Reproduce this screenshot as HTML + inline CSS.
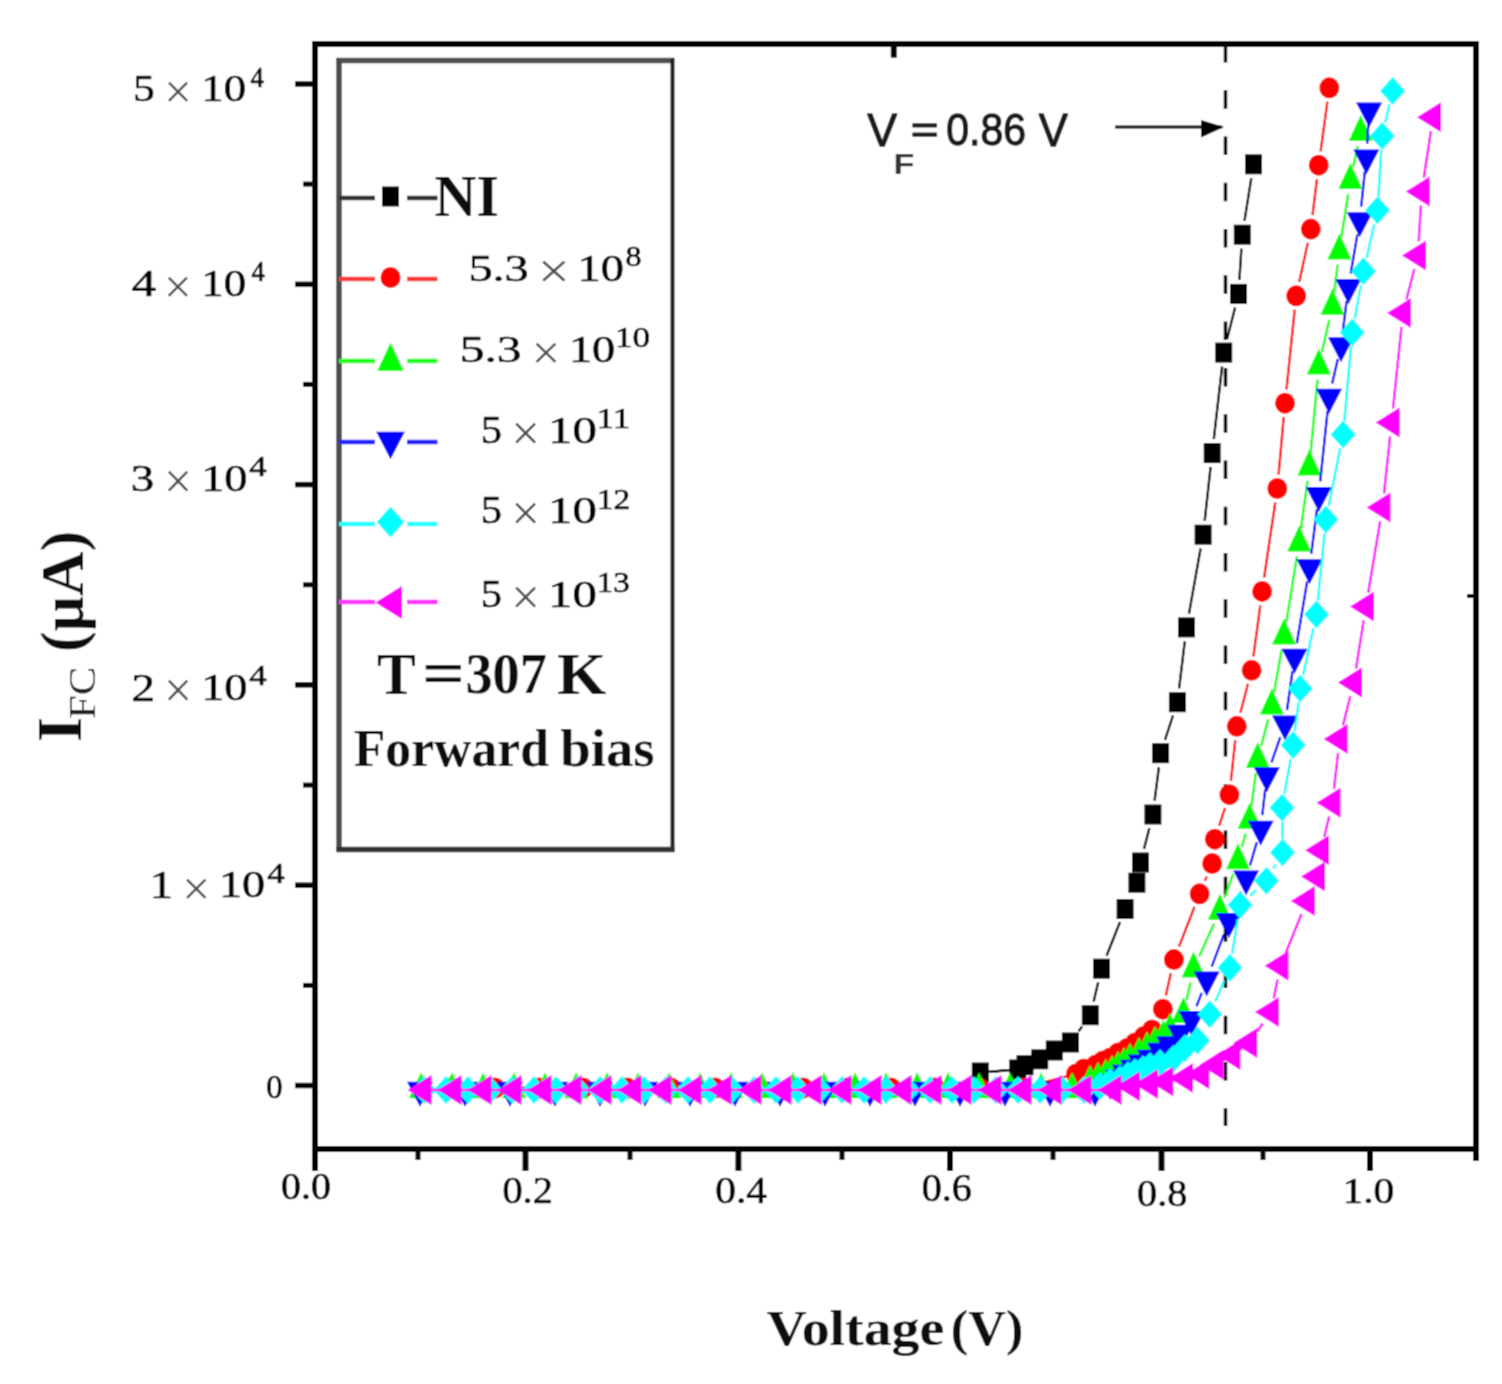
<!DOCTYPE html><html><head><meta charset="utf-8"><title>I-V plot</title><style>html,body{margin:0;padding:0;background:#fff;}svg{display:block;}</style></head><body><svg width="1502" height="1384" viewBox="0 0 1502 1384"><defs><filter id="soft" x="0" y="0" width="1502" height="1384" filterUnits="userSpaceOnUse"><feConvolveMatrix order="3" kernelMatrix="1 2 1 2 8 2 1 2 1" divisor="20" edgeMode="duplicate"/></filter></defs><g filter="url(#soft)"><rect width="1502" height="1384" fill="#fff"/><line x1="315" y1="41" x2="315" y2="1171" stroke="#000" stroke-width="6"/><line x1="312" y1="44" x2="1479" y2="44" stroke="#000" stroke-width="6"/><line x1="1476" y1="41" x2="1476" y2="1161" stroke="#000" stroke-width="6"/><line x1="312" y1="1149" x2="1479" y2="1149" stroke="#000" stroke-width="6"/><line x1="295" y1="1085.5" x2="315" y2="1085.5" stroke="#000" stroke-width="5.5"/><line x1="303" y1="985.4" x2="315" y2="985.4" stroke="#000" stroke-width="5"/><line x1="295" y1="885.2" x2="315" y2="885.2" stroke="#000" stroke-width="5.5"/><line x1="303" y1="785.1" x2="315" y2="785.1" stroke="#000" stroke-width="5"/><line x1="295" y1="684.9" x2="315" y2="684.9" stroke="#000" stroke-width="5.5"/><line x1="303" y1="584.8" x2="315" y2="584.8" stroke="#000" stroke-width="5"/><line x1="295" y1="484.6" x2="315" y2="484.6" stroke="#000" stroke-width="5.5"/><line x1="303" y1="384.4" x2="315" y2="384.4" stroke="#000" stroke-width="5"/><line x1="295" y1="284.3" x2="315" y2="284.3" stroke="#000" stroke-width="5.5"/><line x1="303" y1="184.1" x2="315" y2="184.1" stroke="#000" stroke-width="5"/><line x1="295" y1="84.0" x2="315" y2="84.0" stroke="#000" stroke-width="5.5"/><line x1="525.5" y1="1149" x2="525.5" y2="1171" stroke="#000" stroke-width="6"/><line x1="738.4" y1="1149" x2="738.4" y2="1171" stroke="#000" stroke-width="6"/><line x1="950" y1="1149" x2="950" y2="1171" stroke="#000" stroke-width="6"/><line x1="1161.5" y1="1149" x2="1161.5" y2="1171" stroke="#000" stroke-width="6"/><line x1="1370" y1="1149" x2="1370" y2="1171" stroke="#000" stroke-width="6"/><line x1="418" y1="1149" x2="418" y2="1160" stroke="#000" stroke-width="5"/><line x1="630" y1="1149" x2="630" y2="1160" stroke="#000" stroke-width="5"/><line x1="842" y1="1149" x2="842" y2="1160" stroke="#000" stroke-width="5"/><line x1="1053" y1="1149" x2="1053" y2="1160" stroke="#000" stroke-width="5"/><line x1="1263" y1="1149" x2="1263" y2="1160" stroke="#000" stroke-width="5"/><line x1="893.8" y1="44" x2="893.8" y2="57.7" stroke="#000" stroke-width="6"/><line x1="1467" y1="596" x2="1476" y2="596" stroke="#000" stroke-width="4"/><line x1="1225.5" y1="44" x2="1225.5" y2="1126" stroke="#000" stroke-width="3.5" stroke-dasharray="18.5 27.77"/><line x1="1115" y1="127" x2="1222" y2="127" stroke="#000" stroke-width="3"/><polygon points="1201,120 1224,127 1201,137.5" fill="#000"/><polyline points="412.0,1090.0 434.0,1090.0 456.0,1090.0 478.0,1090.0 500.0,1090.0 522.0,1090.0 544.0,1090.0 566.0,1090.0 588.0,1090.0 610.0,1090.0 632.0,1090.0 654.0,1090.0 676.0,1090.0 698.0,1090.0 720.0,1090.0 742.0,1090.0 764.0,1090.0 786.0,1090.0 808.0,1090.0 830.0,1090.0 852.0,1090.0 874.0,1090.0 896.0,1090.0 918.0,1090.0 940.0,1090.0 962.0,1090.0 980.3,1072.5 1017.7,1069.5 1025.0,1065.2 1039.7,1059.3 1054.3,1050.5 1070.4,1042.5" fill="none" stroke="#000000" stroke-width="2.4"/><path d="M994.3 1071.4L1003.7 1070.6M1078.6 1031.2L1082.1 1026.5M1093.6 1001.6L1098.2 982.3M1106.6 955.7L1120.0 922.0M1144.0 848.9L1149.4 828.1M1154.6 800.6L1158.9 767.1M1165.0 739.9L1173.0 715.5M1179.1 688.3L1184.8 641.3M1189.0 613.6L1200.6 548.5M1204.7 520.8L1210.6 467.0M1213.8 439.2L1222.1 366.5M1227.1 339.0L1235.1 307.5M1239.4 279.9L1241.4 248.7M1244.5 220.9L1251.3 178.1" fill="none" stroke="#000000" stroke-width="2.4"/><rect x="971.8" y="1062.5" width="17" height="20" fill="#000000"/><rect x="1009.2" y="1059.5" width="17" height="20" fill="#000000"/><rect x="1016.5" y="1055.2" width="17" height="20" fill="#000000"/><rect x="1031.2" y="1049.3" width="17" height="20" fill="#000000"/><rect x="1045.8" y="1040.5" width="17" height="20" fill="#000000"/><rect x="1061.9" y="1032.5" width="17" height="20" fill="#000000"/><rect x="1081.8" y="1005.2" width="17" height="20" fill="#000000"/><rect x="1093.0" y="958.7" width="17" height="20" fill="#000000"/><rect x="1116.6" y="899.0" width="17" height="20" fill="#000000"/><rect x="1128.4" y="872.7" width="17" height="20" fill="#000000"/><rect x="1132.0" y="852.5" width="17" height="20" fill="#000000"/><rect x="1144.4" y="804.5" width="17" height="20" fill="#000000"/><rect x="1152.1" y="743.2" width="17" height="20" fill="#000000"/><rect x="1168.9" y="692.2" width="17" height="20" fill="#000000"/><rect x="1178.0" y="617.4" width="17" height="20" fill="#000000"/><rect x="1194.6" y="524.7" width="17" height="20" fill="#000000"/><rect x="1203.7" y="443.1" width="17" height="20" fill="#000000"/><rect x="1215.2" y="342.6" width="17" height="20" fill="#000000"/><rect x="1230.0" y="283.9" width="17" height="20" fill="#000000"/><rect x="1233.8" y="224.7" width="17" height="20" fill="#000000"/><rect x="1245.0" y="154.3" width="17" height="20" fill="#000000"/><polyline points="451.0,1088.0 495.0,1088.0 539.0,1088.0 583.0,1088.0 627.0,1088.0 671.0,1088.0 715.0,1088.0 759.0,1088.0 803.0,1088.0 847.0,1088.0 891.0,1088.0 935.0,1088.0 979.0,1088.0 1023.0,1088.0 1076.0,1074.0 1083.8,1069.0 1095.8,1065.0 1103.0,1061.0 1110.2,1058.0 1118.0,1053.0 1127.0,1048.5 1135.0,1043.0 1143.7,1036.6 1152.0,1030.0" fill="none" stroke="#ff0000" stroke-width="2.4"/><path d="M465.0 1088.0L481.0 1088.0M509.0 1088.0L525.0 1088.0M553.0 1088.0L569.0 1088.0M597.0 1088.0L613.0 1088.0M641.0 1088.0L657.0 1088.0M685.0 1088.0L701.0 1088.0M729.0 1088.0L745.0 1088.0M773.0 1088.0L789.0 1088.0M817.0 1088.0L833.0 1088.0M861.0 1088.0L877.0 1088.0M905.0 1088.0L921.0 1088.0M949.0 1088.0L965.0 1088.0M993.0 1088.0L1009.0 1088.0M1036.5 1084.4L1062.5 1077.6M1165.9 995.5L1170.8 973.3M1179.0 946.6L1194.5 906.8M1204.9 880.9L1206.8 876.4M1219.2 825.9L1225.0 808.0M1230.9 780.8L1235.3 740.2M1240.4 712.8L1248.0 683.8M1253.4 656.4L1260.3 605.3M1264.1 577.6L1275.3 502.3M1278.6 474.6L1283.7 417.1M1286.5 389.3L1294.7 309.7M1299.2 282.1L1307.8 242.8M1312.5 215.2L1317.0 179.1M1320.6 151.3L1327.4 101.7" fill="none" stroke="#ff0000" stroke-width="2.4"/><ellipse cx="451.0" cy="1088.0" rx="10" ry="10.5" fill="#ff0000"/><ellipse cx="495.0" cy="1088.0" rx="10" ry="10.5" fill="#ff0000"/><ellipse cx="539.0" cy="1088.0" rx="10" ry="10.5" fill="#ff0000"/><ellipse cx="583.0" cy="1088.0" rx="10" ry="10.5" fill="#ff0000"/><ellipse cx="627.0" cy="1088.0" rx="10" ry="10.5" fill="#ff0000"/><ellipse cx="671.0" cy="1088.0" rx="10" ry="10.5" fill="#ff0000"/><ellipse cx="715.0" cy="1088.0" rx="10" ry="10.5" fill="#ff0000"/><ellipse cx="759.0" cy="1088.0" rx="10" ry="10.5" fill="#ff0000"/><ellipse cx="803.0" cy="1088.0" rx="10" ry="10.5" fill="#ff0000"/><ellipse cx="847.0" cy="1088.0" rx="10" ry="10.5" fill="#ff0000"/><ellipse cx="891.0" cy="1088.0" rx="10" ry="10.5" fill="#ff0000"/><ellipse cx="935.0" cy="1088.0" rx="10" ry="10.5" fill="#ff0000"/><ellipse cx="979.0" cy="1088.0" rx="10" ry="10.5" fill="#ff0000"/><ellipse cx="1023.0" cy="1088.0" rx="10" ry="10.5" fill="#ff0000"/><ellipse cx="1076.0" cy="1074.0" rx="10" ry="10.5" fill="#ff0000"/><ellipse cx="1083.8" cy="1069.0" rx="10" ry="10.5" fill="#ff0000"/><ellipse cx="1095.8" cy="1065.0" rx="10" ry="10.5" fill="#ff0000"/><ellipse cx="1103.0" cy="1061.0" rx="10" ry="10.5" fill="#ff0000"/><ellipse cx="1110.2" cy="1058.0" rx="10" ry="10.5" fill="#ff0000"/><ellipse cx="1118.0" cy="1053.0" rx="10" ry="10.5" fill="#ff0000"/><ellipse cx="1127.0" cy="1048.5" rx="10" ry="10.5" fill="#ff0000"/><ellipse cx="1135.0" cy="1043.0" rx="10" ry="10.5" fill="#ff0000"/><ellipse cx="1143.7" cy="1036.6" rx="10" ry="10.5" fill="#ff0000"/><ellipse cx="1152.0" cy="1030.0" rx="10" ry="10.5" fill="#ff0000"/><ellipse cx="1162.8" cy="1009.2" rx="10" ry="10.5" fill="#ff0000"/><ellipse cx="1173.9" cy="959.6" rx="10" ry="10.5" fill="#ff0000"/><ellipse cx="1199.6" cy="893.8" rx="10" ry="10.5" fill="#ff0000"/><ellipse cx="1212.1" cy="863.5" rx="10" ry="10.5" fill="#ff0000"/><ellipse cx="1214.8" cy="839.2" rx="10" ry="10.5" fill="#ff0000"/><ellipse cx="1229.4" cy="794.7" rx="10" ry="10.5" fill="#ff0000"/><ellipse cx="1236.8" cy="726.3" rx="10" ry="10.5" fill="#ff0000"/><ellipse cx="1251.6" cy="670.3" rx="10" ry="10.5" fill="#ff0000"/><ellipse cx="1262.1" cy="591.4" rx="10" ry="10.5" fill="#ff0000"/><ellipse cx="1277.3" cy="488.5" rx="10" ry="10.5" fill="#ff0000"/><ellipse cx="1285.0" cy="403.2" rx="10" ry="10.5" fill="#ff0000"/><ellipse cx="1296.2" cy="295.8" rx="10" ry="10.5" fill="#ff0000"/><ellipse cx="1310.8" cy="229.1" rx="10" ry="10.5" fill="#ff0000"/><ellipse cx="1318.7" cy="165.2" rx="10" ry="10.5" fill="#ff0000"/><ellipse cx="1329.3" cy="87.8" rx="10" ry="10.5" fill="#ff0000"/><polyline points="421.0,1089.5 452.0,1089.5 483.0,1089.5 514.0,1089.5 545.0,1089.5 576.0,1089.5 607.0,1089.5 638.0,1089.5 669.0,1089.5 700.0,1089.5 731.0,1089.5 762.0,1089.5 793.0,1089.5 824.0,1089.5 855.0,1089.5 886.0,1089.5 917.0,1089.5 948.0,1089.5 979.0,1089.5 1010.0,1089.5 1041.0,1089.5 1072.0,1089.5 1090.0,1082.0 1098.0,1079.0 1105.6,1076.0 1112.0,1072.0 1118.0,1068.0 1124.0,1064.0 1130.0,1060.0 1139.0,1054.0 1147.0,1048.6 1155.0,1043.0 1163.2,1037.0 1170.0,1030.0" fill="none" stroke="#00ff00" stroke-width="2.4"/><path d="M435.0 1089.5L438.0 1089.5M466.0 1089.5L469.0 1089.5M497.0 1089.5L500.0 1089.5M528.0 1089.5L531.0 1089.5M559.0 1089.5L562.0 1089.5M590.0 1089.5L593.0 1089.5M621.0 1089.5L624.0 1089.5M652.0 1089.5L655.0 1089.5M683.0 1089.5L686.0 1089.5M714.0 1089.5L717.0 1089.5M745.0 1089.5L748.0 1089.5M776.0 1089.5L779.0 1089.5M807.0 1089.5L810.0 1089.5M838.0 1089.5L841.0 1089.5M869.0 1089.5L872.0 1089.5M900.0 1089.5L903.0 1089.5M931.0 1089.5L934.0 1089.5M962.0 1089.5L965.0 1089.5M993.0 1089.5L996.0 1089.5M1024.0 1089.5L1027.0 1089.5M1055.0 1089.5L1058.0 1089.5M1186.4 1000.5L1190.5 982.4M1199.3 956.0L1214.0 923.7M1224.5 897.8L1233.3 873.7M1241.9 847.0L1245.7 833.5M1251.5 806.1L1255.8 773.2M1261.3 745.8L1268.2 719.2M1274.2 691.9L1281.6 649.7M1286.3 622.1L1296.9 556.6M1301.0 528.9L1307.5 480.8M1310.6 453.0L1317.5 379.6M1321.9 352.1L1329.3 319.7M1334.2 292.2L1337.6 264.6M1341.5 236.9L1348.2 194.0M1353.2 166.5L1357.7 146.0" fill="none" stroke="#00ff00" stroke-width="2.4"/><polygon points="421.0,1072.2 433.0,1098.2 409.0,1098.2" fill="#00ff00"/><polygon points="452.0,1072.2 464.0,1098.2 440.0,1098.2" fill="#00ff00"/><polygon points="483.0,1072.2 495.0,1098.2 471.0,1098.2" fill="#00ff00"/><polygon points="514.0,1072.2 526.0,1098.2 502.0,1098.2" fill="#00ff00"/><polygon points="545.0,1072.2 557.0,1098.2 533.0,1098.2" fill="#00ff00"/><polygon points="576.0,1072.2 588.0,1098.2 564.0,1098.2" fill="#00ff00"/><polygon points="607.0,1072.2 619.0,1098.2 595.0,1098.2" fill="#00ff00"/><polygon points="638.0,1072.2 650.0,1098.2 626.0,1098.2" fill="#00ff00"/><polygon points="669.0,1072.2 681.0,1098.2 657.0,1098.2" fill="#00ff00"/><polygon points="700.0,1072.2 712.0,1098.2 688.0,1098.2" fill="#00ff00"/><polygon points="731.0,1072.2 743.0,1098.2 719.0,1098.2" fill="#00ff00"/><polygon points="762.0,1072.2 774.0,1098.2 750.0,1098.2" fill="#00ff00"/><polygon points="793.0,1072.2 805.0,1098.2 781.0,1098.2" fill="#00ff00"/><polygon points="824.0,1072.2 836.0,1098.2 812.0,1098.2" fill="#00ff00"/><polygon points="855.0,1072.2 867.0,1098.2 843.0,1098.2" fill="#00ff00"/><polygon points="886.0,1072.2 898.0,1098.2 874.0,1098.2" fill="#00ff00"/><polygon points="917.0,1072.2 929.0,1098.2 905.0,1098.2" fill="#00ff00"/><polygon points="948.0,1072.2 960.0,1098.2 936.0,1098.2" fill="#00ff00"/><polygon points="979.0,1072.2 991.0,1098.2 967.0,1098.2" fill="#00ff00"/><polygon points="1010.0,1072.2 1022.0,1098.2 998.0,1098.2" fill="#00ff00"/><polygon points="1041.0,1072.2 1053.0,1098.2 1029.0,1098.2" fill="#00ff00"/><polygon points="1072.0,1072.2 1084.0,1098.2 1060.0,1098.2" fill="#00ff00"/><polygon points="1090.0,1064.7 1102.0,1090.7 1078.0,1090.7" fill="#00ff00"/><polygon points="1098.0,1061.7 1110.0,1087.7 1086.0,1087.7" fill="#00ff00"/><polygon points="1105.6,1058.7 1117.6,1084.7 1093.6,1084.7" fill="#00ff00"/><polygon points="1112.0,1054.7 1124.0,1080.7 1100.0,1080.7" fill="#00ff00"/><polygon points="1118.0,1050.7 1130.0,1076.7 1106.0,1076.7" fill="#00ff00"/><polygon points="1124.0,1046.7 1136.0,1072.7 1112.0,1072.7" fill="#00ff00"/><polygon points="1130.0,1042.7 1142.0,1068.7 1118.0,1068.7" fill="#00ff00"/><polygon points="1139.0,1036.7 1151.0,1062.7 1127.0,1062.7" fill="#00ff00"/><polygon points="1147.0,1031.3 1159.0,1057.3 1135.0,1057.3" fill="#00ff00"/><polygon points="1155.0,1025.7 1167.0,1051.7 1143.0,1051.7" fill="#00ff00"/><polygon points="1163.2,1019.7 1175.2,1045.7 1151.2,1045.7" fill="#00ff00"/><polygon points="1170.0,1012.7 1182.0,1038.7 1158.0,1038.7" fill="#00ff00"/><polygon points="1183.4,996.9 1195.4,1022.9 1171.4,1022.9" fill="#00ff00"/><polygon points="1193.5,951.4 1205.5,977.4 1181.5,977.4" fill="#00ff00"/><polygon points="1219.8,893.7 1231.8,919.7 1207.8,919.7" fill="#00ff00"/><polygon points="1238.0,843.2 1250.0,869.2 1226.0,869.2" fill="#00ff00"/><polygon points="1249.6,802.7 1261.6,828.7 1237.6,828.7" fill="#00ff00"/><polygon points="1257.7,742.0 1269.7,768.0 1245.7,768.0" fill="#00ff00"/><polygon points="1271.8,688.4 1283.8,714.4 1259.8,714.4" fill="#00ff00"/><polygon points="1284.0,618.6 1296.0,644.6 1272.0,644.6" fill="#00ff00"/><polygon points="1299.2,525.5 1311.2,551.5 1287.2,551.5" fill="#00ff00"/><polygon points="1309.3,449.6 1321.3,475.6 1297.3,475.6" fill="#00ff00"/><polygon points="1318.8,348.4 1330.8,374.4 1306.8,374.4" fill="#00ff00"/><polygon points="1332.4,288.8 1344.4,314.8 1320.4,314.8" fill="#00ff00"/><polygon points="1339.4,233.4 1351.4,259.4 1327.4,259.4" fill="#00ff00"/><polygon points="1350.3,162.9 1362.3,188.9 1338.3,188.9" fill="#00ff00"/><polygon points="1360.6,115.0 1372.6,141.0 1348.6,141.0" fill="#00ff00"/><polyline points="420.0,1090.0 465.0,1090.0 510.0,1090.0 555.0,1090.0 600.0,1090.0 645.0,1090.0 690.0,1090.0 735.0,1090.0 780.0,1090.0 825.0,1090.0 870.0,1090.0 915.0,1090.0 960.0,1090.0 1005.0,1090.0 1050.0,1090.0 1095.0,1090.0 1110.0,1083.0 1118.0,1078.0 1125.0,1073.0 1133.0,1068.0 1140.9,1062.8 1150.0,1058.0 1160.0,1051.0 1169.2,1044.6 1180.0,1033.0 1191.5,1019.3" fill="none" stroke="#0000ff" stroke-width="2.4"/><path d="M434.0 1090.0L451.0 1090.0M479.0 1090.0L496.0 1090.0M524.0 1090.0L541.0 1090.0M569.0 1090.0L586.0 1090.0M614.0 1090.0L631.0 1090.0M659.0 1090.0L676.0 1090.0M704.0 1090.0L721.0 1090.0M749.0 1090.0L766.0 1090.0M794.0 1090.0L811.0 1090.0M839.0 1090.0L856.0 1090.0M884.0 1090.0L901.0 1090.0M929.0 1090.0L946.0 1090.0M974.0 1090.0L991.0 1090.0M1019.0 1090.0L1036.0 1090.0M1064.0 1090.0L1081.0 1090.0M1196.5 1006.2L1201.7 992.9M1211.7 966.7L1223.9 934.3M1234.2 908.2L1240.8 891.7M1250.0 865.3L1256.8 842.4M1262.3 815.1L1265.2 789.4M1271.5 762.3L1280.3 737.1M1287.0 710.0L1292.5 671.0M1296.8 643.3L1307.2 581.3M1311.3 553.6L1317.0 509.1M1320.2 481.3L1327.6 410.9M1332.2 383.4L1337.8 359.1M1342.8 331.6L1346.6 301.2M1350.7 273.5L1357.4 234.4M1361.2 206.7L1364.8 171.6M1367.1 143.7L1368.3 124.7" fill="none" stroke="#0000ff" stroke-width="2.4"/><polygon points="407.0,1081.7 433.0,1081.7 420.0,1106.7" fill="#0000ff"/><polygon points="452.0,1081.7 478.0,1081.7 465.0,1106.7" fill="#0000ff"/><polygon points="497.0,1081.7 523.0,1081.7 510.0,1106.7" fill="#0000ff"/><polygon points="542.0,1081.7 568.0,1081.7 555.0,1106.7" fill="#0000ff"/><polygon points="587.0,1081.7 613.0,1081.7 600.0,1106.7" fill="#0000ff"/><polygon points="632.0,1081.7 658.0,1081.7 645.0,1106.7" fill="#0000ff"/><polygon points="677.0,1081.7 703.0,1081.7 690.0,1106.7" fill="#0000ff"/><polygon points="722.0,1081.7 748.0,1081.7 735.0,1106.7" fill="#0000ff"/><polygon points="767.0,1081.7 793.0,1081.7 780.0,1106.7" fill="#0000ff"/><polygon points="812.0,1081.7 838.0,1081.7 825.0,1106.7" fill="#0000ff"/><polygon points="857.0,1081.7 883.0,1081.7 870.0,1106.7" fill="#0000ff"/><polygon points="902.0,1081.7 928.0,1081.7 915.0,1106.7" fill="#0000ff"/><polygon points="947.0,1081.7 973.0,1081.7 960.0,1106.7" fill="#0000ff"/><polygon points="992.0,1081.7 1018.0,1081.7 1005.0,1106.7" fill="#0000ff"/><polygon points="1037.0,1081.7 1063.0,1081.7 1050.0,1106.7" fill="#0000ff"/><polygon points="1082.0,1081.7 1108.0,1081.7 1095.0,1106.7" fill="#0000ff"/><polygon points="1097.0,1074.7 1123.0,1074.7 1110.0,1099.7" fill="#0000ff"/><polygon points="1105.0,1069.7 1131.0,1069.7 1118.0,1094.7" fill="#0000ff"/><polygon points="1112.0,1064.7 1138.0,1064.7 1125.0,1089.7" fill="#0000ff"/><polygon points="1120.0,1059.7 1146.0,1059.7 1133.0,1084.7" fill="#0000ff"/><polygon points="1127.9,1054.5 1153.9,1054.5 1140.9,1079.5" fill="#0000ff"/><polygon points="1137.0,1049.7 1163.0,1049.7 1150.0,1074.7" fill="#0000ff"/><polygon points="1147.0,1042.7 1173.0,1042.7 1160.0,1067.7" fill="#0000ff"/><polygon points="1156.2,1036.3 1182.2,1036.3 1169.2,1061.3" fill="#0000ff"/><polygon points="1167.0,1024.7 1193.0,1024.7 1180.0,1049.7" fill="#0000ff"/><polygon points="1178.5,1011.0 1204.5,1011.0 1191.5,1036.0" fill="#0000ff"/><polygon points="1193.7,971.5 1219.7,971.5 1206.7,996.5" fill="#0000ff"/><polygon points="1215.9,912.9 1241.9,912.9 1228.9,937.9" fill="#0000ff"/><polygon points="1233.1,870.4 1259.1,870.4 1246.1,895.4" fill="#0000ff"/><polygon points="1247.7,820.7 1273.7,820.7 1260.7,845.7" fill="#0000ff"/><polygon points="1253.8,767.2 1279.8,767.2 1266.8,792.2" fill="#0000ff"/><polygon points="1272.0,715.6 1298.0,715.6 1285.0,740.6" fill="#0000ff"/><polygon points="1281.5,648.8 1307.5,648.8 1294.5,673.8" fill="#0000ff"/><polygon points="1296.5,559.2 1322.5,559.2 1309.5,584.2" fill="#0000ff"/><polygon points="1305.8,486.9 1331.8,486.9 1318.8,511.9" fill="#0000ff"/><polygon points="1316.0,388.7 1342.0,388.7 1329.0,413.7" fill="#0000ff"/><polygon points="1328.0,337.2 1354.0,337.2 1341.0,362.2" fill="#0000ff"/><polygon points="1335.4,279.0 1361.4,279.0 1348.4,304.0" fill="#0000ff"/><polygon points="1346.7,212.3 1372.7,212.3 1359.7,237.3" fill="#0000ff"/><polygon points="1353.3,149.4 1379.3,149.4 1366.3,174.4" fill="#0000ff"/><polygon points="1356.1,102.4 1382.1,102.4 1369.1,127.4" fill="#0000ff"/><polyline points="424.0,1090.0 446.0,1090.0 468.0,1090.0 490.0,1090.0 512.0,1090.0 534.0,1090.0 556.0,1090.0 578.0,1090.0 600.0,1090.0 622.0,1090.0 644.0,1090.0 666.0,1090.0 688.0,1090.0 710.0,1090.0 732.0,1090.0 754.0,1090.0 776.0,1090.0 798.0,1090.0 820.0,1090.0 842.0,1090.0 864.0,1090.0 886.0,1090.0 908.0,1090.0 930.0,1090.0 952.0,1090.0 974.0,1090.0 996.0,1090.0 1018.0,1090.0 1040.0,1090.0 1062.0,1090.0 1084.0,1090.0 1100.0,1086.0 1110.0,1082.0 1120.0,1079.0 1128.0,1075.0 1135.0,1072.0 1143.0,1069.0 1150.0,1066.0 1160.0,1063.0 1173.3,1058.7 1185.0,1048.0 1197.6,1040.5" fill="none" stroke="#00ffff" stroke-width="2.4"/><path d="M1215.3 1001.4L1224.3 980.5M1232.1 953.9L1237.8 918.8M1250.3 895.5L1256.1 890.2M1273.3 868.5L1275.6 864.6M1282.3 838.4L1282.2 821.8M1284.4 794.0L1290.7 758.9M1294.8 731.2L1298.5 702.4M1303.2 674.8L1313.4 628.3M1317.8 600.7L1324.5 533.4M1328.7 505.8L1340.3 448.2M1344.3 420.6L1351.0 346.3M1354.7 318.6L1360.9 285.1M1366.6 257.7L1374.3 223.9M1378.4 196.3L1381.3 150.1M1385.3 122.5L1389.5 104.6" fill="none" stroke="#00ffff" stroke-width="2.4"/><polygon points="424.0,1076.0 436.5,1090.0 424.0,1104.0 411.5,1090.0" fill="#00ffff"/><polygon points="446.0,1076.0 458.5,1090.0 446.0,1104.0 433.5,1090.0" fill="#00ffff"/><polygon points="468.0,1076.0 480.5,1090.0 468.0,1104.0 455.5,1090.0" fill="#00ffff"/><polygon points="490.0,1076.0 502.5,1090.0 490.0,1104.0 477.5,1090.0" fill="#00ffff"/><polygon points="512.0,1076.0 524.5,1090.0 512.0,1104.0 499.5,1090.0" fill="#00ffff"/><polygon points="534.0,1076.0 546.5,1090.0 534.0,1104.0 521.5,1090.0" fill="#00ffff"/><polygon points="556.0,1076.0 568.5,1090.0 556.0,1104.0 543.5,1090.0" fill="#00ffff"/><polygon points="578.0,1076.0 590.5,1090.0 578.0,1104.0 565.5,1090.0" fill="#00ffff"/><polygon points="600.0,1076.0 612.5,1090.0 600.0,1104.0 587.5,1090.0" fill="#00ffff"/><polygon points="622.0,1076.0 634.5,1090.0 622.0,1104.0 609.5,1090.0" fill="#00ffff"/><polygon points="644.0,1076.0 656.5,1090.0 644.0,1104.0 631.5,1090.0" fill="#00ffff"/><polygon points="666.0,1076.0 678.5,1090.0 666.0,1104.0 653.5,1090.0" fill="#00ffff"/><polygon points="688.0,1076.0 700.5,1090.0 688.0,1104.0 675.5,1090.0" fill="#00ffff"/><polygon points="710.0,1076.0 722.5,1090.0 710.0,1104.0 697.5,1090.0" fill="#00ffff"/><polygon points="732.0,1076.0 744.5,1090.0 732.0,1104.0 719.5,1090.0" fill="#00ffff"/><polygon points="754.0,1076.0 766.5,1090.0 754.0,1104.0 741.5,1090.0" fill="#00ffff"/><polygon points="776.0,1076.0 788.5,1090.0 776.0,1104.0 763.5,1090.0" fill="#00ffff"/><polygon points="798.0,1076.0 810.5,1090.0 798.0,1104.0 785.5,1090.0" fill="#00ffff"/><polygon points="820.0,1076.0 832.5,1090.0 820.0,1104.0 807.5,1090.0" fill="#00ffff"/><polygon points="842.0,1076.0 854.5,1090.0 842.0,1104.0 829.5,1090.0" fill="#00ffff"/><polygon points="864.0,1076.0 876.5,1090.0 864.0,1104.0 851.5,1090.0" fill="#00ffff"/><polygon points="886.0,1076.0 898.5,1090.0 886.0,1104.0 873.5,1090.0" fill="#00ffff"/><polygon points="908.0,1076.0 920.5,1090.0 908.0,1104.0 895.5,1090.0" fill="#00ffff"/><polygon points="930.0,1076.0 942.5,1090.0 930.0,1104.0 917.5,1090.0" fill="#00ffff"/><polygon points="952.0,1076.0 964.5,1090.0 952.0,1104.0 939.5,1090.0" fill="#00ffff"/><polygon points="974.0,1076.0 986.5,1090.0 974.0,1104.0 961.5,1090.0" fill="#00ffff"/><polygon points="996.0,1076.0 1008.5,1090.0 996.0,1104.0 983.5,1090.0" fill="#00ffff"/><polygon points="1018.0,1076.0 1030.5,1090.0 1018.0,1104.0 1005.5,1090.0" fill="#00ffff"/><polygon points="1040.0,1076.0 1052.5,1090.0 1040.0,1104.0 1027.5,1090.0" fill="#00ffff"/><polygon points="1062.0,1076.0 1074.5,1090.0 1062.0,1104.0 1049.5,1090.0" fill="#00ffff"/><polygon points="1084.0,1076.0 1096.5,1090.0 1084.0,1104.0 1071.5,1090.0" fill="#00ffff"/><polygon points="1100.0,1072.0 1112.5,1086.0 1100.0,1100.0 1087.5,1086.0" fill="#00ffff"/><polygon points="1110.0,1068.0 1122.5,1082.0 1110.0,1096.0 1097.5,1082.0" fill="#00ffff"/><polygon points="1120.0,1065.0 1132.5,1079.0 1120.0,1093.0 1107.5,1079.0" fill="#00ffff"/><polygon points="1128.0,1061.0 1140.5,1075.0 1128.0,1089.0 1115.5,1075.0" fill="#00ffff"/><polygon points="1135.0,1058.0 1147.5,1072.0 1135.0,1086.0 1122.5,1072.0" fill="#00ffff"/><polygon points="1143.0,1055.0 1155.5,1069.0 1143.0,1083.0 1130.5,1069.0" fill="#00ffff"/><polygon points="1150.0,1052.0 1162.5,1066.0 1150.0,1080.0 1137.5,1066.0" fill="#00ffff"/><polygon points="1160.0,1049.0 1172.5,1063.0 1160.0,1077.0 1147.5,1063.0" fill="#00ffff"/><polygon points="1173.3,1044.7 1185.8,1058.7 1173.3,1072.7 1160.8,1058.7" fill="#00ffff"/><polygon points="1185.0,1034.0 1197.5,1048.0 1185.0,1062.0 1172.5,1048.0" fill="#00ffff"/><polygon points="1197.6,1026.5 1210.1,1040.5 1197.6,1054.5 1185.1,1040.5" fill="#00ffff"/><polygon points="1209.7,1000.2 1222.2,1014.2 1209.7,1028.2 1197.2,1014.2" fill="#00ffff"/><polygon points="1229.9,953.7 1242.4,967.7 1229.9,981.7 1217.4,967.7" fill="#00ffff"/><polygon points="1240.0,891.0 1252.5,905.0 1240.0,919.0 1227.5,905.0" fill="#00ffff"/><polygon points="1266.4,866.7 1278.9,880.7 1266.4,894.7 1253.9,880.7" fill="#00ffff"/><polygon points="1282.5,838.4 1295.0,852.4 1282.5,866.4 1270.0,852.4" fill="#00ffff"/><polygon points="1282.0,793.8 1294.5,807.8 1282.0,821.8 1269.5,807.8" fill="#00ffff"/><polygon points="1293.1,731.1 1305.6,745.1 1293.1,759.1 1280.6,745.1" fill="#00ffff"/><polygon points="1300.2,674.5 1312.7,688.5 1300.2,702.5 1287.7,688.5" fill="#00ffff"/><polygon points="1316.4,600.6 1328.9,614.6 1316.4,628.6 1303.9,614.6" fill="#00ffff"/><polygon points="1325.9,505.5 1338.4,519.5 1325.9,533.5 1313.4,519.5" fill="#00ffff"/><polygon points="1343.1,420.5 1355.6,434.5 1343.1,448.5 1330.6,434.5" fill="#00ffff"/><polygon points="1352.2,318.4 1364.7,332.4 1352.2,346.4 1339.7,332.4" fill="#00ffff"/><polygon points="1363.4,257.3 1375.9,271.3 1363.4,285.3 1350.9,271.3" fill="#00ffff"/><polygon points="1377.5,196.3 1390.0,210.3 1377.5,224.3 1365.0,210.3" fill="#00ffff"/><polygon points="1382.2,122.1 1394.7,136.1 1382.2,150.1 1369.7,136.1" fill="#00ffff"/><polygon points="1392.6,77.0 1405.1,91.0 1392.6,105.0 1380.1,91.0" fill="#00ffff"/><polyline points="423.5,1090.0 453.5,1090.0 483.5,1090.0 513.5,1090.0 543.5,1090.0 573.5,1090.0 603.5,1090.0 633.5,1090.0 663.5,1090.0 693.5,1090.0 723.5,1090.0 753.5,1090.0 783.5,1090.0 813.5,1090.0 843.5,1090.0 873.5,1090.0 903.5,1090.0 933.5,1090.0 963.5,1090.0 993.5,1090.0 1023.5,1090.0 1053.5,1090.0 1083.5,1090.0 1113.5,1090.0 1131.8,1086.3 1150.0,1084.0 1165.3,1081.5 1185.0,1078.0 1201.3,1074.3 1215.6,1064.7 1232.4,1055.0 1249.2,1043.0" fill="none" stroke="#ff00ff" stroke-width="2.4"/><path d="M437.5 1090.0L439.5 1090.0M467.5 1090.0L469.5 1090.0M497.5 1090.0L499.5 1090.0M527.5 1090.0L529.5 1090.0M557.5 1090.0L559.5 1090.0M587.5 1090.0L589.5 1090.0M617.5 1090.0L619.5 1090.0M647.5 1090.0L649.5 1090.0M677.5 1090.0L679.5 1090.0M707.5 1090.0L709.5 1090.0M737.5 1090.0L739.5 1090.0M767.5 1090.0L769.5 1090.0M797.5 1090.0L799.5 1090.0M827.5 1090.0L829.5 1090.0M857.5 1090.0L859.5 1090.0M887.5 1090.0L889.5 1090.0M917.5 1090.0L919.5 1090.0M947.5 1090.0L949.5 1090.0M977.5 1090.0L979.5 1090.0M1007.5 1090.0L1009.5 1090.0M1037.5 1090.0L1039.5 1090.0M1067.5 1090.0L1069.5 1090.0M1097.5 1090.0L1099.5 1090.0M1257.2 1031.5L1262.8 1023.5M1273.7 998.3L1277.6 979.4M1285.8 952.7L1301.5 914.0M1324.3 836.7L1329.2 816.4M1334.0 788.9L1338.1 752.9M1343.0 725.4L1350.4 696.0M1356.0 668.6L1363.7 620.3M1368.2 592.7L1380.2 521.2M1384.0 493.5L1390.1 436.3M1393.0 408.5L1401.5 326.9M1406.4 299.5L1414.4 268.9M1418.7 241.4L1420.9 205.5M1423.8 177.7L1430.9 131.1" fill="none" stroke="#ff00ff" stroke-width="2.4"/><polygon points="407.5,1090.0 431.5,1075.0 431.5,1105.0" fill="#ff00ff"/><polygon points="437.5,1090.0 461.5,1075.0 461.5,1105.0" fill="#ff00ff"/><polygon points="467.5,1090.0 491.5,1075.0 491.5,1105.0" fill="#ff00ff"/><polygon points="497.5,1090.0 521.5,1075.0 521.5,1105.0" fill="#ff00ff"/><polygon points="527.5,1090.0 551.5,1075.0 551.5,1105.0" fill="#ff00ff"/><polygon points="557.5,1090.0 581.5,1075.0 581.5,1105.0" fill="#ff00ff"/><polygon points="587.5,1090.0 611.5,1075.0 611.5,1105.0" fill="#ff00ff"/><polygon points="617.5,1090.0 641.5,1075.0 641.5,1105.0" fill="#ff00ff"/><polygon points="647.5,1090.0 671.5,1075.0 671.5,1105.0" fill="#ff00ff"/><polygon points="677.5,1090.0 701.5,1075.0 701.5,1105.0" fill="#ff00ff"/><polygon points="707.5,1090.0 731.5,1075.0 731.5,1105.0" fill="#ff00ff"/><polygon points="737.5,1090.0 761.5,1075.0 761.5,1105.0" fill="#ff00ff"/><polygon points="767.5,1090.0 791.5,1075.0 791.5,1105.0" fill="#ff00ff"/><polygon points="797.5,1090.0 821.5,1075.0 821.5,1105.0" fill="#ff00ff"/><polygon points="827.5,1090.0 851.5,1075.0 851.5,1105.0" fill="#ff00ff"/><polygon points="857.5,1090.0 881.5,1075.0 881.5,1105.0" fill="#ff00ff"/><polygon points="887.5,1090.0 911.5,1075.0 911.5,1105.0" fill="#ff00ff"/><polygon points="917.5,1090.0 941.5,1075.0 941.5,1105.0" fill="#ff00ff"/><polygon points="947.5,1090.0 971.5,1075.0 971.5,1105.0" fill="#ff00ff"/><polygon points="977.5,1090.0 1001.5,1075.0 1001.5,1105.0" fill="#ff00ff"/><polygon points="1007.5,1090.0 1031.5,1075.0 1031.5,1105.0" fill="#ff00ff"/><polygon points="1037.5,1090.0 1061.5,1075.0 1061.5,1105.0" fill="#ff00ff"/><polygon points="1067.5,1090.0 1091.5,1075.0 1091.5,1105.0" fill="#ff00ff"/><polygon points="1097.5,1090.0 1121.5,1075.0 1121.5,1105.0" fill="#ff00ff"/><polygon points="1115.8,1086.3 1139.8,1071.3 1139.8,1101.3" fill="#ff00ff"/><polygon points="1134.0,1084.0 1158.0,1069.0 1158.0,1099.0" fill="#ff00ff"/><polygon points="1149.3,1081.5 1173.3,1066.5 1173.3,1096.5" fill="#ff00ff"/><polygon points="1169.0,1078.0 1193.0,1063.0 1193.0,1093.0" fill="#ff00ff"/><polygon points="1185.3,1074.3 1209.3,1059.3 1209.3,1089.3" fill="#ff00ff"/><polygon points="1199.6,1064.7 1223.6,1049.7 1223.6,1079.7" fill="#ff00ff"/><polygon points="1216.4,1055.0 1240.4,1040.0 1240.4,1070.0" fill="#ff00ff"/><polygon points="1233.2,1043.0 1257.2,1028.0 1257.2,1058.0" fill="#ff00ff"/><polygon points="1254.8,1012.0 1278.8,997.0 1278.8,1027.0" fill="#ff00ff"/><polygon points="1264.5,965.7 1288.5,950.7 1288.5,980.7" fill="#ff00ff"/><polygon points="1290.8,901.0 1314.8,886.0 1314.8,916.0" fill="#ff00ff"/><polygon points="1301.0,876.6 1325.0,861.6 1325.0,891.6" fill="#ff00ff"/><polygon points="1305.0,850.3 1329.0,835.3 1329.0,865.3" fill="#ff00ff"/><polygon points="1316.5,802.8 1340.5,787.8 1340.5,817.8" fill="#ff00ff"/><polygon points="1323.6,739.0 1347.6,724.0 1347.6,754.0" fill="#ff00ff"/><polygon points="1337.8,682.4 1361.8,667.4 1361.8,697.4" fill="#ff00ff"/><polygon points="1349.9,606.5 1373.9,591.5 1373.9,621.5" fill="#ff00ff"/><polygon points="1366.5,507.4 1390.5,492.4 1390.5,522.4" fill="#ff00ff"/><polygon points="1375.6,422.4 1399.6,407.4 1399.6,437.4" fill="#ff00ff"/><polygon points="1386.9,313.0 1410.9,298.0 1410.9,328.0" fill="#ff00ff"/><polygon points="1401.9,255.4 1425.9,240.4 1425.9,270.4" fill="#ff00ff"/><polygon points="1405.7,191.5 1429.7,176.5 1429.7,206.5" fill="#ff00ff"/><polygon points="1417.0,117.3 1441.0,102.3 1441.0,132.3" fill="#ff00ff"/><rect x="339" y="60.5" width="333.5" height="789" fill="#fff"/><line x1="336.5" y1="60.5" x2="674" y2="60.5" stroke="#505050" stroke-width="5.5"/><line x1="339" y1="58" x2="339" y2="852" stroke="#4c4c4c" stroke-width="5.5"/><line x1="672.5" y1="58" x2="672.5" y2="852" stroke="#1e1e1e" stroke-width="4"/><line x1="336.5" y1="849.5" x2="674.5" y2="849.5" stroke="#303030" stroke-width="5.5"/><line x1="339" y1="198" x2="375" y2="198" stroke="#333333" stroke-width="4.5"/><line x1="407" y1="198" x2="437.5" y2="198" stroke="#333333" stroke-width="4.5"/><rect x="382.0" y="186.5" width="17" height="20" fill="#000000"/><line x1="339" y1="279" x2="375" y2="279" stroke="#ff3a3a" stroke-width="4.5"/><line x1="407" y1="279" x2="437.5" y2="279" stroke="#ff3a3a" stroke-width="4.5"/><ellipse cx="390.5" cy="277.5" rx="10" ry="10.5" fill="#ff0000"/><line x1="339" y1="361" x2="375" y2="361" stroke="#22ff22" stroke-width="4.5"/><line x1="407" y1="361" x2="437.5" y2="361" stroke="#22ff22" stroke-width="4.5"/><polygon points="390.5,342.4 403.7,371.0 377.3,371.0" fill="#00ff00"/><line x1="339" y1="442" x2="375" y2="442" stroke="#2020ff" stroke-width="4.5"/><line x1="407" y1="442" x2="437.5" y2="442" stroke="#2020ff" stroke-width="4.5"/><polygon points="376.2,431.8 404.8,431.8 390.5,459.3" fill="#0000ff"/><line x1="339" y1="524" x2="375" y2="524" stroke="#22ffff" stroke-width="4.5"/><line x1="407" y1="524" x2="437.5" y2="524" stroke="#22ffff" stroke-width="4.5"/><polygon points="390.5,506.6 404.2,522.0 390.5,537.4 376.8,522.0" fill="#00ffff"/><line x1="339" y1="602" x2="375" y2="602" stroke="#ff30ff" stroke-width="4.5"/><line x1="407" y1="602" x2="437.5" y2="602" stroke="#ff30ff" stroke-width="4.5"/><polygon points="375.4,602.5 401.8,586.0 401.8,619.0" fill="#ff00ff"/><text transform="translate(133.34,101.35) scale(0.10726,0.09526)" font-family="'Liberation Serif', serif" font-weight="normal" font-size="400" fill="#000" stroke="#000" stroke-width="0.7" vector-effect="non-scaling-stroke" stroke-linejoin="round">5</text><text transform="translate(164.19,107.66) scale(0.12207,0.11911)" font-family="'Liberation Serif', serif" font-weight="normal" font-size="400" fill="#505050">×</text><text transform="translate(201.36,101.37) scale(0.11172,0.09309)" font-family="'Liberation Serif', serif" font-weight="normal" font-size="400" fill="#000" stroke="#000" stroke-width="0.7" vector-effect="non-scaling-stroke" stroke-linejoin="round">10</text><text transform="translate(250.43,86.85) scale(0.06667,0.07405)" font-family="'Liberation Serif', serif" font-weight="normal" font-size="400" fill="#000" stroke="#000" stroke-width="0.7" vector-effect="non-scaling-stroke" stroke-linejoin="round">4</text><text transform="translate(131.79,296.35) scale(0.12160,0.09526)" font-family="'Liberation Serif', serif" font-weight="normal" font-size="400" fill="#000" stroke="#000" stroke-width="0.7" vector-effect="non-scaling-stroke" stroke-linejoin="round">4</text><text transform="translate(164.07,302.83) scale(0.12267,0.12267)" font-family="'Liberation Serif', serif" font-weight="normal" font-size="400" fill="#505050">×</text><text transform="translate(201.36,295.77) scale(0.11172,0.09309)" font-family="'Liberation Serif', serif" font-weight="normal" font-size="400" fill="#000" stroke="#000" stroke-width="0.7" vector-effect="non-scaling-stroke" stroke-linejoin="round">10</text><text transform="translate(251.44,281.25) scale(0.06613,0.07405)" font-family="'Liberation Serif', serif" font-weight="normal" font-size="400" fill="#000" stroke="#000" stroke-width="0.7" vector-effect="non-scaling-stroke" stroke-linejoin="round">4</text><text transform="translate(130.65,490.55) scale(0.11733,0.09564)" font-family="'Liberation Serif', serif" font-weight="normal" font-size="400" fill="#000" stroke="#000" stroke-width="0.7" vector-effect="non-scaling-stroke" stroke-linejoin="round">3</text><text transform="translate(164.11,497.72) scale(0.12444,0.12444)" font-family="'Liberation Serif', serif" font-weight="normal" font-size="400" fill="#505050">×</text><text transform="translate(201.13,490.55) scale(0.11593,0.09564)" font-family="'Liberation Serif', serif" font-weight="normal" font-size="400" fill="#000" stroke="#000" stroke-width="0.7" vector-effect="non-scaling-stroke" stroke-linejoin="round">10</text><text transform="translate(249.21,476.15) scale(0.08693,0.07553)" font-family="'Liberation Serif', serif" font-weight="normal" font-size="400" fill="#000" stroke="#000" stroke-width="0.7" vector-effect="non-scaling-stroke" stroke-linejoin="round">4</text><text transform="translate(131.38,700.65) scale(0.11733,0.09786)" font-family="'Liberation Serif', serif" font-weight="normal" font-size="400" fill="#000" stroke="#000" stroke-width="0.7" vector-effect="non-scaling-stroke" stroke-linejoin="round">2</text><text transform="translate(164.11,707.22) scale(0.12444,0.12444)" font-family="'Liberation Serif', serif" font-weight="normal" font-size="400" fill="#505050">×</text><text transform="translate(201.13,700.05) scale(0.11593,0.09564)" font-family="'Liberation Serif', serif" font-weight="normal" font-size="400" fill="#000" stroke="#000" stroke-width="0.7" vector-effect="non-scaling-stroke" stroke-linejoin="round">10</text><text transform="translate(249.21,685.15) scale(0.08693,0.07367)" font-family="'Liberation Serif', serif" font-weight="normal" font-size="400" fill="#000" stroke="#000" stroke-width="0.7" vector-effect="non-scaling-stroke" stroke-linejoin="round">4</text><text transform="translate(149.80,898.05) scale(0.11667,0.09749)" font-family="'Liberation Serif', serif" font-weight="normal" font-size="400" fill="#000" stroke="#000" stroke-width="0.7" vector-effect="non-scaling-stroke" stroke-linejoin="round">1</text><text transform="translate(182.23,904.59) scale(0.12385,0.12385)" font-family="'Liberation Serif', serif" font-weight="normal" font-size="400" fill="#505050">×</text><text transform="translate(219.04,897.45) scale(0.11537,0.09527)" font-family="'Liberation Serif', serif" font-weight="normal" font-size="400" fill="#000" stroke="#000" stroke-width="0.7" vector-effect="non-scaling-stroke" stroke-linejoin="round">10</text><text transform="translate(267.21,883.25) scale(0.08693,0.07516)" font-family="'Liberation Serif', serif" font-weight="normal" font-size="400" fill="#000" stroke="#000" stroke-width="0.7" vector-effect="non-scaling-stroke" stroke-linejoin="round">4</text><text transform="translate(266.33,1098.12) scale(0.08171,0.08473)" font-family="'Liberation Serif', serif" font-weight="normal" font-size="400" fill="#000" stroke="#000" stroke-width="0.7" vector-effect="non-scaling-stroke" stroke-linejoin="round">0</text><text transform="translate(281.11,1199.37) scale(0.09958,0.09309)" font-family="'Liberation Serif', serif" font-weight="normal" font-size="400" fill="#000" stroke="#000" stroke-width="0.7" vector-effect="non-scaling-stroke" stroke-linejoin="round">0.0</text><text transform="translate(502.39,1202.76) scale(0.10091,0.09455)" font-family="'Liberation Serif', serif" font-weight="normal" font-size="400" fill="#000" stroke="#000" stroke-width="0.7" vector-effect="non-scaling-stroke" stroke-linejoin="round">0.2</text><text transform="translate(715.36,1202.76) scale(0.10327,0.09455)" font-family="'Liberation Serif', serif" font-weight="normal" font-size="400" fill="#000" stroke="#000" stroke-width="0.7" vector-effect="non-scaling-stroke" stroke-linejoin="round">0.4</text><text transform="translate(921.70,1200.64) scale(0.10036,0.09782)" font-family="'Liberation Serif', serif" font-weight="normal" font-size="400" fill="#000" stroke="#000" stroke-width="0.7" vector-effect="non-scaling-stroke" stroke-linejoin="round">0.6</text><text transform="translate(1137.10,1205.66) scale(0.10021,0.09418)" font-family="'Liberation Serif', serif" font-weight="normal" font-size="400" fill="#000" stroke="#000" stroke-width="0.7" vector-effect="non-scaling-stroke" stroke-linejoin="round">0.8</text><text transform="translate(1342.51,1203.08) scale(0.10367,0.09091)" font-family="'Liberation Serif', serif" font-weight="normal" font-size="400" fill="#000" stroke="#000" stroke-width="0.7" vector-effect="non-scaling-stroke" stroke-linejoin="round">1.0</text><text transform="translate(766.50,1344.50) scale(0.13958,0.12800)" font-family="'Liberation Serif', serif" font-weight="bold" font-size="400" fill="#111">Voltage</text><text transform="translate(950.77,1344.85) scale(0.13060,0.12746)" font-family="'Liberation Serif', serif" font-weight="bold" font-size="400" fill="#111">(V)</text><text transform="translate(81.00,742.01) rotate(-90) scale(0.16076,0.15810)" font-family="'Liberation Serif', serif" font-weight="bold" font-size="400" fill="#111">I</text><text transform="translate(95.30,719.07) rotate(-90) scale(0.10746,0.09673)" font-family="'Liberation Serif', serif" font-weight="normal" font-size="400" fill="#222">FC</text><text transform="translate(82.52,651.93) rotate(-90) scale(0.15419,0.15295)" font-family="'Liberation Serif', serif" font-weight="bold" font-size="400" fill="#111">(µA)</text><text transform="translate(434.60,215.50) scale(0.14471,0.14590)" font-family="'Liberation Serif', serif" font-weight="bold" font-size="400" fill="#111">NI</text><text transform="translate(468.39,281.04) scale(0.12075,0.09709)" font-family="'Liberation Serif', serif" font-weight="normal" font-size="400" fill="#000" stroke="#000" stroke-width="0.7" vector-effect="non-scaling-stroke" stroke-linejoin="round">5.3</text><text transform="translate(537.76,288.34) scale(0.14222,0.12681)" font-family="'Liberation Serif', serif" font-weight="normal" font-size="400" fill="#505050">×</text><text transform="translate(577.53,281.04) scale(0.11593,0.09709)" font-family="'Liberation Serif', serif" font-weight="normal" font-size="400" fill="#000" stroke="#000" stroke-width="0.7" vector-effect="non-scaling-stroke" stroke-linejoin="round">10</text><text transform="translate(625.45,265.80) scale(0.08000,0.07236)" font-family="'Liberation Serif', serif" font-weight="normal" font-size="400" fill="#000" stroke="#000" stroke-width="0.7" vector-effect="non-scaling-stroke" stroke-linejoin="round">8</text><text transform="translate(459.74,361.66) scale(0.12331,0.09418)" font-family="'Liberation Serif', serif" font-weight="normal" font-size="400" fill="#000" stroke="#000" stroke-width="0.7" vector-effect="non-scaling-stroke" stroke-linejoin="round">5.3</text><text transform="translate(531.66,368.70) scale(0.12622,0.12207)" font-family="'Liberation Serif', serif" font-weight="normal" font-size="400" fill="#505050">×</text><text transform="translate(568.94,361.66) scale(0.11565,0.09418)" font-family="'Liberation Serif', serif" font-weight="normal" font-size="400" fill="#000" stroke="#000" stroke-width="0.7" vector-effect="non-scaling-stroke" stroke-linejoin="round">10</text><text transform="translate(615.00,347.18) scale(0.08786,0.07491)" font-family="'Liberation Serif', serif" font-weight="normal" font-size="400" fill="#000" stroke="#000" stroke-width="0.7" vector-effect="non-scaling-stroke" stroke-linejoin="round">10</text><text transform="translate(480.86,442.53) scale(0.10607,0.09860)" font-family="'Liberation Serif', serif" font-weight="normal" font-size="400" fill="#000" stroke="#000" stroke-width="0.7" vector-effect="non-scaling-stroke" stroke-linejoin="round">5</text><text transform="translate(511.32,449.72) scale(0.12741,0.12444)" font-family="'Liberation Serif', serif" font-weight="normal" font-size="400" fill="#505050">×</text><text transform="translate(548.04,442.55) scale(0.12182,0.09636)" font-family="'Liberation Serif', serif" font-weight="normal" font-size="400" fill="#000" stroke="#000" stroke-width="0.7" vector-effect="non-scaling-stroke" stroke-linejoin="round">10</text><text transform="translate(596.62,428.45) scale(0.08742,0.07553)" font-family="'Liberation Serif', serif" font-weight="normal" font-size="400" fill="#000" stroke="#000" stroke-width="0.7" vector-effect="non-scaling-stroke" stroke-linejoin="round">11</text><text transform="translate(480.86,523.13) scale(0.10607,0.09860)" font-family="'Liberation Serif', serif" font-weight="normal" font-size="400" fill="#000" stroke="#000" stroke-width="0.7" vector-effect="non-scaling-stroke" stroke-linejoin="round">5</text><text transform="translate(511.32,530.32) scale(0.12741,0.12444)" font-family="'Liberation Serif', serif" font-weight="normal" font-size="400" fill="#505050">×</text><text transform="translate(548.04,523.15) scale(0.12182,0.09636)" font-family="'Liberation Serif', serif" font-weight="normal" font-size="400" fill="#000" stroke="#000" stroke-width="0.7" vector-effect="non-scaling-stroke" stroke-linejoin="round">10</text><text transform="translate(596.73,509.05) scale(0.08371,0.07553)" font-family="'Liberation Serif', serif" font-weight="normal" font-size="400" fill="#000" stroke="#000" stroke-width="0.7" vector-effect="non-scaling-stroke" stroke-linejoin="round">12</text><text transform="translate(480.86,607.03) scale(0.10607,0.09860)" font-family="'Liberation Serif', serif" font-weight="normal" font-size="400" fill="#000" stroke="#000" stroke-width="0.7" vector-effect="non-scaling-stroke" stroke-linejoin="round">5</text><text transform="translate(511.32,614.22) scale(0.12741,0.12444)" font-family="'Liberation Serif', serif" font-weight="normal" font-size="400" fill="#505050">×</text><text transform="translate(548.04,607.05) scale(0.12182,0.09636)" font-family="'Liberation Serif', serif" font-weight="normal" font-size="400" fill="#000" stroke="#000" stroke-width="0.7" vector-effect="non-scaling-stroke" stroke-linejoin="round">10</text><text transform="translate(596.78,592.49) scale(0.08225,0.07382)" font-family="'Liberation Serif', serif" font-weight="normal" font-size="400" fill="#000" stroke="#000" stroke-width="0.7" vector-effect="non-scaling-stroke" stroke-linejoin="round">13</text><text transform="translate(377.09,693.50) scale(0.14517,0.14857)" font-family="'Liberation Serif', serif" font-weight="bold" font-size="400" fill="#111">T</text><text transform="translate(422.06,695.00) scale(0.18880,0.16000)" font-family="'Liberation Serif', serif" font-weight="bold" font-size="400" fill="#111">=</text><text transform="translate(465.41,692.61) scale(0.13557,0.14182)" font-family="'Liberation Serif', serif" font-weight="bold" font-size="400" fill="#111">307</text><text transform="translate(557.01,693.50) scale(0.15837,0.14857)" font-family="'Liberation Serif', serif" font-weight="bold" font-size="400" fill="#111">K</text><text transform="translate(353.79,766.37) scale(0.12920,0.13357)" font-family="'Liberation Serif', serif" font-weight="bold" font-size="400" fill="#111">Forward</text><text transform="translate(560.20,766.37) scale(0.13707,0.13357)" font-family="'Liberation Serif', serif" font-weight="bold" font-size="400" fill="#111">bias</text><text transform="translate(867.15,146.05) scale(0.11200,0.11520)" font-family="'Liberation Sans', sans-serif" font-weight="normal" font-size="400" fill="#1a1a1a" stroke="#1a1a1a" stroke-width="1.3" vector-effect="non-scaling-stroke" stroke-linejoin="round">V</text><text transform="translate(893.47,173.50) scale(0.08533,0.07360)" font-family="'Liberation Sans', sans-serif" font-weight="bold" font-size="400" fill="#333">F</text><text transform="translate(911.10,142.37) scale(0.11750,0.09236)" font-family="'Liberation Sans', sans-serif" font-weight="normal" font-size="400" fill="#1a1a1a" stroke="#1a1a1a" stroke-width="1.8" vector-effect="non-scaling-stroke" stroke-linejoin="round">=</text><text transform="translate(946.27,145.35) scale(0.10243,0.11270)" font-family="'Liberation Sans', sans-serif" font-weight="normal" font-size="400" fill="#1a1a1a" stroke="#1a1a1a" stroke-width="1.3" vector-effect="non-scaling-stroke" stroke-linejoin="round">0.86</text><text transform="translate(1038.65,146.05) scale(0.10902,0.11520)" font-family="'Liberation Sans', sans-serif" font-weight="normal" font-size="400" fill="#1a1a1a" stroke="#1a1a1a" stroke-width="1.3" vector-effect="non-scaling-stroke" stroke-linejoin="round">V</text></g></svg></body></html>
